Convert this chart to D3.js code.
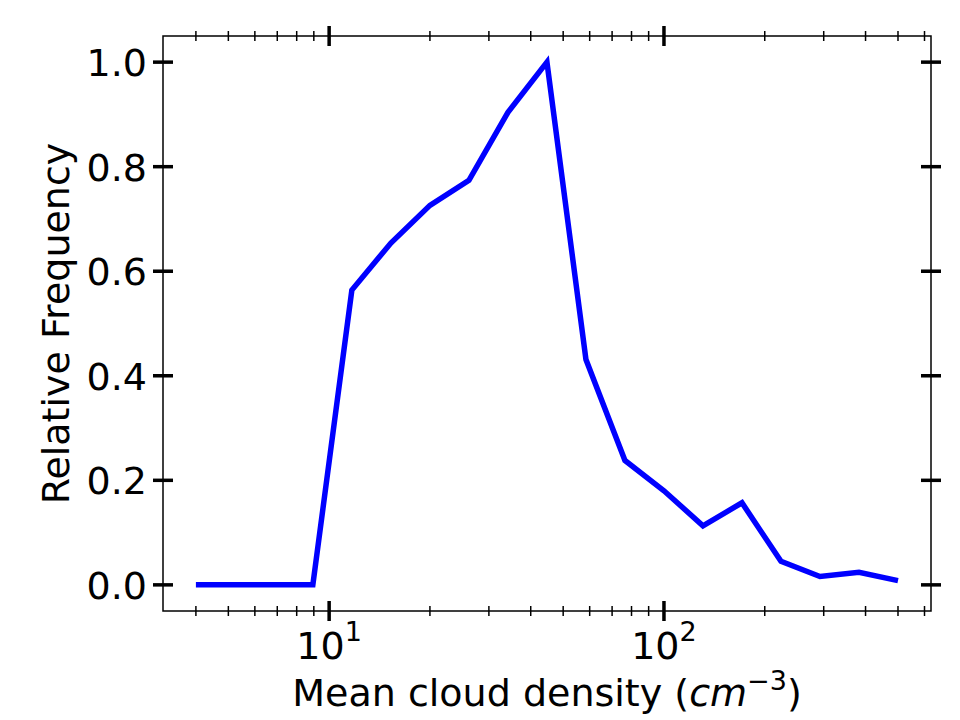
<!DOCTYPE html>
<html>
<head>
<meta charset="utf-8">
<script src="https://cdn.jsdelivr.net/npm/d3@7"></script>
<style>
  html, body { margin: 0; padding: 0; background: #fff; }
  text { font-family: "DejaVu Sans", sans-serif; fill: #000; }
</style>
</head>
<body>
<svg id="chart" width="960" height="720"></svg>
<script>
// ---- data ----
const density = [4.0, 5.23, 6.84, 8.94, 11.69, 15.29, 20.0, 26.15, 34.2, 44.72,
                 58.48, 76.47, 100.0, 130.76, 170.99, 223.6, 292.4, 382.4, 500.0];
const frequency = [0.0, 0.0, 0.0, 0.0, 0.564, 0.654, 0.726, 0.774, 0.904, 1.0,
                   0.431, 0.238, 0.180, 0.113, 0.157, 0.045, 0.016, 0.024, 0.008];
const xMajorTicks = [10, 100];
const xMajorLabels = ["1", "2"]; // exponents of 10
const xMinorTicks = [4, 5, 6, 7, 8, 9, 20, 30, 40, 50, 60, 70, 80, 90, 200, 300, 400, 500, 600];
const yTicks = [0.0, 0.2, 0.4, 0.6, 0.8, 1.0];
const xDomain = [3.19, 627.4];
const yDomain = [-0.05, 1.05];

// ---- layout ----
const svg = d3.select("#chart");
const L = 163, R = 931, T = 36, B = 611;
const x = d3.scaleLog().domain(xDomain).range([L, R]);
const y = d3.scaleLinear().domain(yDomain).range([B, T]);
const FS = 38;

// line
const line = d3.line().x((d, i) => x(density[i])).y(d => y(d));
svg.append("path")
  .datum(frequency)
  .attr("d", line)
  .attr("fill", "none")
  .attr("stroke", "#0000ff")
  .attr("stroke-width", 5.5)
  .attr("stroke-linejoin", "miter")
  .attr("stroke-linecap", "butt");

// frame
svg.append("rect")
  .attr("x", L).attr("y", T).attr("width", R - L).attr("height", B - T)
  .attr("fill", "none").attr("stroke", "#000").attr("stroke-width", 1.5);

const g = svg.append("g");
// x ticks (top and bottom, in-out)
function xt(vals, len, w) {
  vals.forEach(v => {
    const px = x(v);
    [B, T].forEach(py => {
      g.append("line").attr("x1", px).attr("x2", px)
        .attr("y1", py - len / 2).attr("y2", py + len / 2)
        .attr("stroke", "#000").attr("stroke-width", w);
    });
  });
}
xt(xMinorTicks, 10, 1.5);
xt(xMajorTicks, 20, 3.5);

// y ticks (left and right, in-out)
yTicks.forEach(v => {
  const py = y(v);
  [L, R].forEach(px => {
    g.append("line").attr("x1", px - 10).attr("x2", px + 10)
      .attr("y1", py).attr("y2", py)
      .attr("stroke", "#000").attr("stroke-width", 3.5);
  });
});

// y tick labels
yTicks.forEach(v => {
  svg.append("text")
    .attr("x", 147).attr("y", y(v) + 14)
    .attr("text-anchor", "end")
    .attr("font-size", FS)
    .text(d3.format(".1f")(v));
});

// x tick labels
xMajorTicks.forEach((v, i) => {
  const t = svg.append("text")
    .attr("x", x(v)).attr("y", 659)
    .attr("text-anchor", "middle")
    .attr("font-size", FS);
  t.append("tspan").text("10");
  t.append("tspan").attr("font-size", 27).attr("dy", -18).text(xMajorLabels[i]);
});

// axis labels
const xl = svg.append("text")
  .attr("x", (L + R) / 2).attr("y", 706)
  .attr("text-anchor", "middle")
  .attr("font-size", FS);
xl.append("tspan").text("Mean cloud density (");
xl.append("tspan").attr("font-style", "italic").text("cm");
xl.append("tspan").attr("font-size", 27).attr("dy", -16).text("\u22123");
xl.append("tspan").attr("dy", 16).text(")");

svg.append("text")
  .attr("transform", `translate(69, ${(T + B) / 2}) rotate(-90)`)
  .attr("text-anchor", "middle")
  .attr("font-size", FS)
  .text("Relative Frequency");
</script>
</body>
</html>
